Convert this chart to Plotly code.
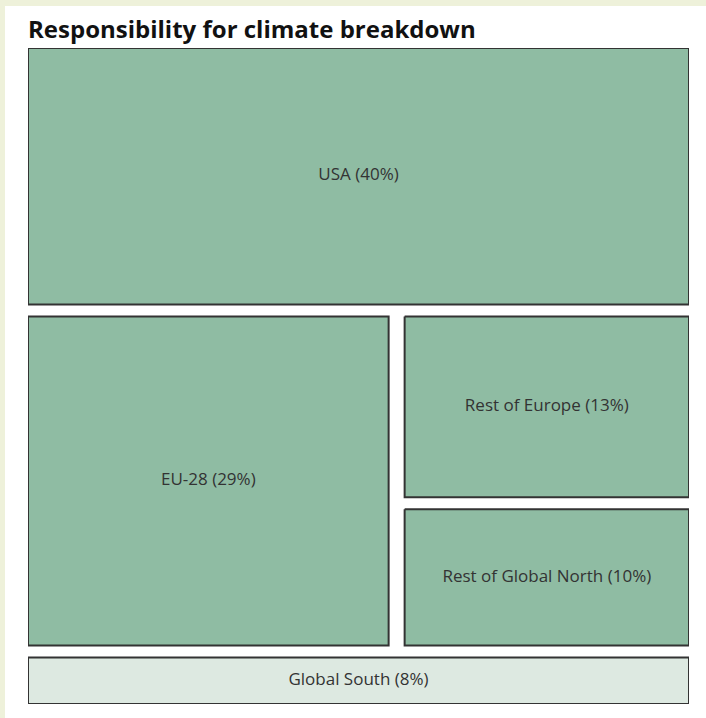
import plotly.graph_objects as go

# ---- data ----
regions = ["USA", "EU-28", "Rest of Europe", "Rest of Global North", "Global South"]
shares = [40, 29, 13, 10, 8]
title_text = "Responsibility for climate breakdown"

# ---- style ----
W, H = 706, 718
ML, MR, MT, MB = 28, 17, 48, 14
PW, PH = W - ML - MR, H - MT - MB
GAP_X, GAP_Y = 16, 12
GREEN = "#8fbca3"
PALE = "#dde9e1"
EDGE = "#333333"
CREAM = "#eef1da"

val = dict(zip(regions, shares))
total = sum(shares)

# layout (unit square, y measured top-down)
cells = {}
y = 0.0
h_usa = val["USA"] / total
cells["USA"] = (0.0, 1.0, y, y + h_usa)
y += h_usa
mid = ["EU-28", "Rest of Europe", "Rest of Global North"]
h_mid = sum(val[k] for k in mid) / total
w_eu = val["EU-28"] / sum(val[k] for k in mid)
cells["EU-28"] = (0.0, w_eu, y, y + h_mid)
right_tot = val["Rest of Europe"] + val["Rest of Global North"]
h_roe = h_mid * val["Rest of Europe"] / right_tot
cells["Rest of Europe"] = (w_eu, 1.0, y, y + h_roe)
cells["Rest of Global North"] = (w_eu, 1.0, y + h_roe, y + h_mid)
y += h_mid
cells["Global South"] = (0.0, 1.0, y, 1.0)

gx = GAP_X / PW / 2
gy = GAP_Y / PH / 2

fig = go.Figure()
for name in regions:
    x0, x1, y0, y1 = cells[name]
    x0 += gx if x0 > 1e-9 else 0
    x1 -= gx if x1 < 1 - 1e-9 else 0
    y0 += gy if y0 > 1e-9 else 0
    y1 -= gy if y1 < 1 - 1e-9 else 0
    fill = PALE if name == "Global South" else GREEN
    fig.add_trace(go.Scatter(
        x=[x0, x1, x1, x0, x0], y=[y0, y0, y1, y1, y0],
        mode="lines", fill="toself", fillcolor=fill,
        line=dict(color=EDGE, width=2), hoverinfo="skip", showlegend=False))
    fig.add_trace(go.Scatter(
        x=[(x0 + x1) / 2], y=[(y0 + y1) / 2], mode="text",
        text=[f"{name} ({val[name]}%)"],
        textfont=dict(family="Open Sans", size=17, color="#333333"),
        hoverinfo="skip", showlegend=False))

# cream edge strips (top and left)
fig.add_shape(type="rect", xref="paper", yref="paper",
              x0=-ML / PW, x1=(W - ML) / PW, y0=1 + (MT - 6) / PH, y1=1 + MT / PH,
              fillcolor=CREAM, line=dict(width=0), layer="below")
fig.add_shape(type="rect", xref="paper", yref="paper",
              x0=-ML / PW, x1=-(ML - 5) / PW, y0=-MB / PH, y1=1 + MT / PH,
              fillcolor=CREAM, line=dict(width=0), layer="below")

fig.add_annotation(text=f"<b>{title_text}</b>", xref="paper", yref="paper",
                   x=-2 / PW, y=1 + 1 / PH, xanchor="left", yanchor="bottom",
                   showarrow=False,
                   font=dict(family="Open Sans", size=24, color="#111111"))

fig.update_xaxes(range=[0, 1], visible=False, fixedrange=True)
fig.update_yaxes(range=[1, 0], visible=False, fixedrange=True)
fig.update_layout(width=W, height=H, margin=dict(l=ML, r=MR, t=MT, b=MB),
                  paper_bgcolor="white", plot_bgcolor="white")

fig.write_html("out.html")
